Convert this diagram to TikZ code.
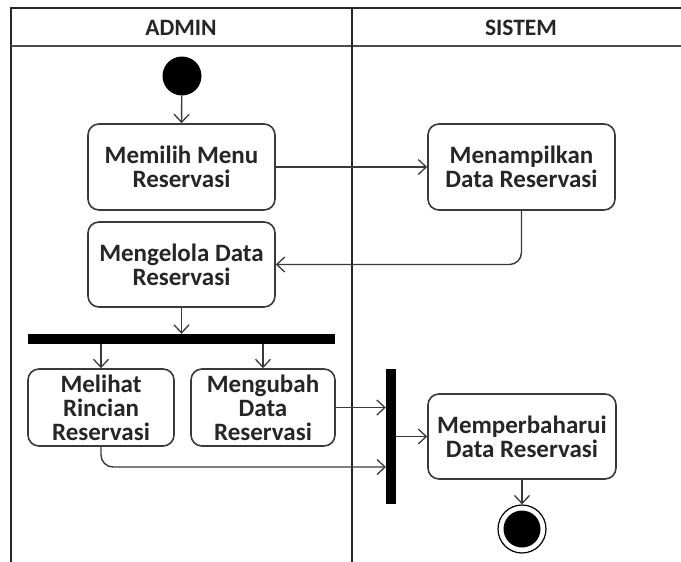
\documentclass[tikz,border=0pt]{standalone}
\usepackage{fontspec}
\setmainfont{Carlito}
\usetikzlibrary{arrows.meta,calc}
\definecolor{inkline}{HTML}{3A3A3A}
\definecolor{inktext}{HTML}{262626}
\begin{document}
\begin{tikzpicture}[x=1pt,y=-1pt,
  lanefont/.style={font=\fontsize{23.5}{24}\selectfont\bfseries, text=inktext},
  action/.style={draw=inkline, line width=1.6pt, rounded corners=11pt, fill=white,
    align=center, inner sep=2pt, font=\fontsize{25}{24}\selectfont\bfseries, text=inktext},
  bar/.style={fill=black, draw=none, inner sep=0pt},
  flow/.style={draw=inkline, line width=1.4pt, rounded corners=12pt,
    -{Straight Barb[length=8pt,width=15pt,line width=1.3pt]}},
  frame/.style={draw=black!85, line width=1.8pt}]
\useasboundingbox (0,0) rectangle (681,562);

% swimlane frame
\draw[frame] (681,8) -- (11,8) -- (11,562);
\draw[draw=black!70, line width=2.6pt] (11,46) -- (681,46);
\draw[frame, line width=1.4pt] (352,8) -- (352,562);
\node[lanefont] (laneA) at (181,28) {ADMIN};
\node[lanefont] (laneS) at (521,28) {SISTEM};

% nodes
\node[circle, fill=black, minimum size=39pt, inner sep=0pt] (start) at (182,76) {};
\node[action, minimum width=187pt, minimum height=86pt] (pilih) at (181.5,167)
  {Memilih Menu\\Reservasi};
\node[action, minimum width=187pt, minimum height=86pt] (tampil) at (521.5,167)
  {Menampilkan\\Data Reservasi};
\node[action, minimum width=187pt, minimum height=85pt] (kelola) at (181.5,264.5)
  {Mengelola Data\\Reservasi};
\node[bar, minimum width=307pt, minimum height=10pt] (fork) at (181.5,339) {};
\node[action, minimum width=146pt, minimum height=77pt] (lihat) at (101,407.5)
  {Melihat\\Rincian\\Reservasi};
\node[action, minimum width=144pt, minimum height=77pt] (ubah) at (263,407.5)
  {Mengubah\\Data\\Reservasi};
\node[bar, minimum width=10pt, minimum height=135pt] (join) at (391,436.5) {};
\node[action, minimum width=188pt, minimum height=85pt] (baharui) at (522,436.5)
  {Memperbaharui\\Data Reservasi};
\node[circle, draw=black, line width=1.2pt, minimum size=48pt, inner sep=0pt,
  path picture={\fill[black] (path picture bounding box.center) circle (18.5pt);}]
  (end) at (522,529) {};
\coordinate (jlow) at (386,467);

% connectors
\draw[flow] (start) -- (pilih.north);
\draw[flow] (pilih.east) -- (tampil.west);
\draw[flow] (tampil.south) |- (kelola.east);
\draw[flow] (kelola.south) -- (fork.north);
\draw[flow] (fork.south -| lihat.north) -- (lihat.north);
\draw[flow] (fork.south -| ubah.north) -- (ubah.north);
\draw[flow] (ubah.east) -- (ubah.east -| join.west);
\draw[flow] (lihat.south) |- (jlow);
\draw[flow] (join.east |- baharui.west) -- (baharui.west);
\draw[flow] (baharui.south) -- (end.north);
\end{tikzpicture}
\end{document}
